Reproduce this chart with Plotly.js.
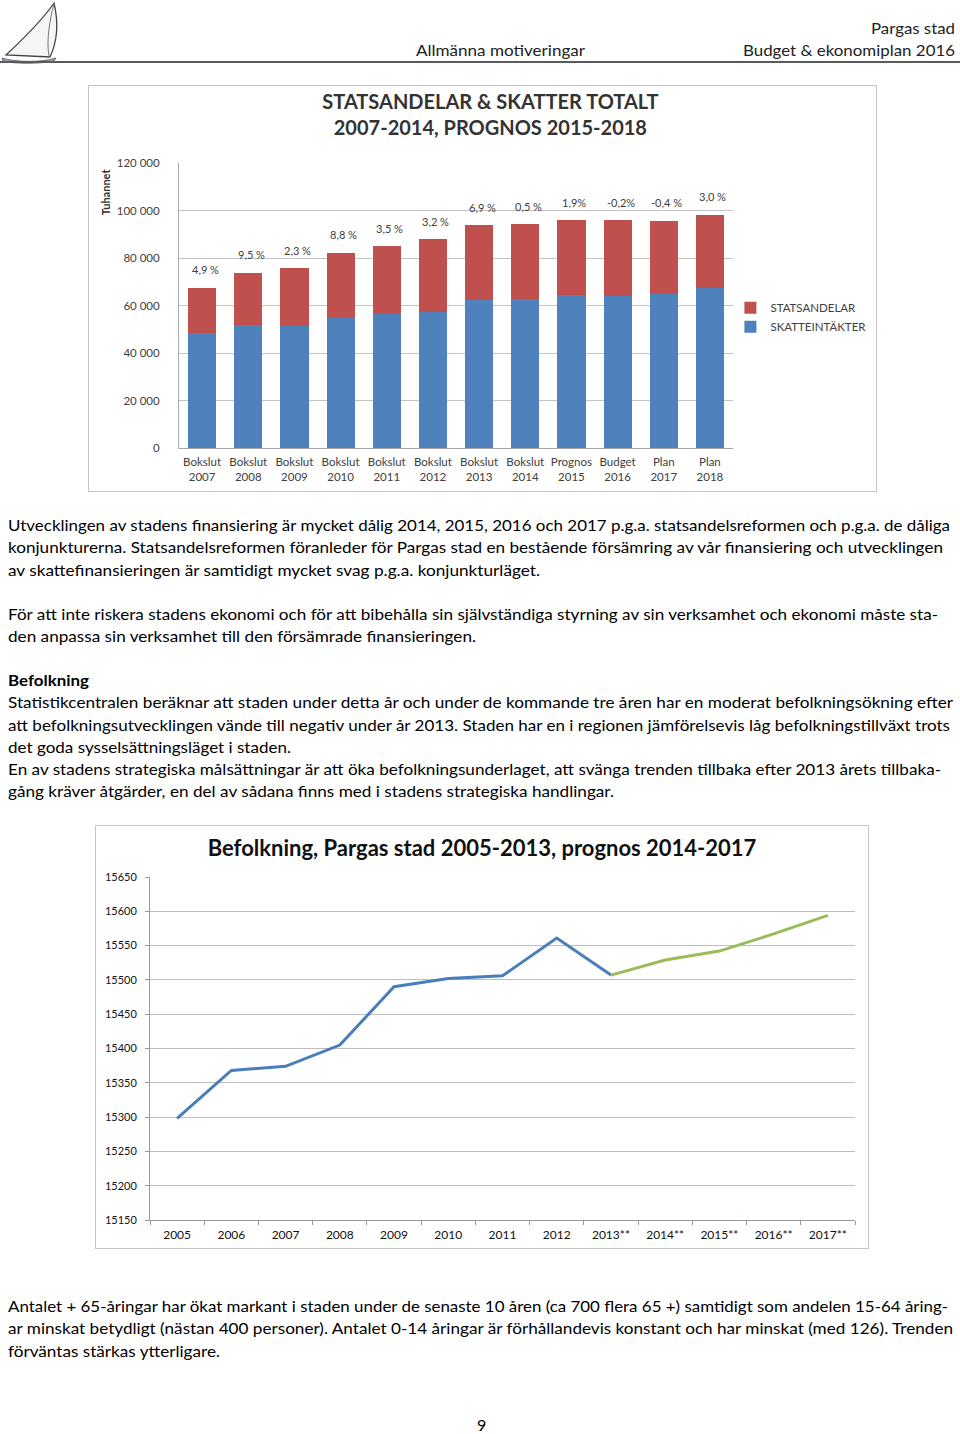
<!DOCTYPE html>
<html>
<head>
<meta charset="utf-8">
<script src="https://cdn.plot.ly/plotly-3.0.1.min.js"></script>
<style>
  html, body { margin:0; padding:0; background:#fff; }
  body { width:960px; height:1434px; position:relative; overflow:hidden; font-family:Lato, "Open Sans", sans-serif; color:#000; }
  .ln { position:absolute; left:8px; white-space:nowrap; font-size:16px; line-height:20px; transform-origin:0 50%; }
  .hd { position:absolute; white-space:nowrap; font-size:16px; line-height:20px; color:#222; transform-origin:0 50%; }
  #chart1 { position:absolute; left:88px; top:85px; width:787px; height:405px; border:1px solid #c4c4c4; }
  #chart2 { position:absolute; left:95px; top:825px; width:772px; height:422px; border:1px solid #c4c4c4; }
</style>
</head>
<body>
<svg style="position:absolute;left:0;top:0" width="62" height="66" viewBox="0 0 62 66">
  <path d="M54,3 C44,18 22,40 6,55 L50,57 C58,40 58,20 54,3 Z" fill="#f4f6f6" stroke="#444" stroke-width="1.3"/>
  <path d="M54,3 C50,20 46,40 49,56" fill="none" stroke="#777" stroke-width="1"/>
  <path d="M2,58 C14,62 40,63 56,58 L54,61 C40,64 14,64 3,61 Z" fill="#9aa8aa" stroke="#556" stroke-width="0.8"/>
</svg>
<div class="hd" data-x1="955" data-w="84" style="top:18px">Pargas stad</div>
<div class="hd" data-x1="955" data-w="212" style="top:40px">Budget &amp; ekonomiplan 2016</div>
<div class="hd" style="left:416px;top:40px" data-w="169">Allmänna motiveringar</div>
<div style="position:absolute;left:0;top:61px;width:960px;height:2px;background:#5a5a5a"></div>

<div id="chart1"></div>

<div class="ln" style="top:515px" data-w="942">Utvecklingen av stadens finansiering är mycket dålig 2014, 2015, 2016 och 2017 p.g.a. statsandelsreformen och p.g.a. de dåliga</div>
<div class="ln" style="top:537px" data-w="935">konjunkturerna. Statsandelsreformen föranleder för Pargas stad en bestående försämring av vår finansiering och utvecklingen</div>
<div class="ln" style="top:560px" data-w="532">av skattefinansieringen är samtidigt mycket svag p.g.a. konjunkturläget.</div>
<div class="ln" style="top:604px" data-w="930">För att inte riskera stadens ekonomi och för att bibehålla sin självständiga styrning av sin verksamhet och ekonomi måste sta-</div>
<div class="ln" style="top:626px" data-w="468">den anpassa sin verksamhet till den försämrade finansieringen.</div>
<div class="ln" style="top:670px;font-weight:bold" data-w="81">Befolkning</div>
<div class="ln" style="top:692px" data-w="945">Statistikcentralen beräknar att staden under detta år och under de kommande tre åren har en moderat befolkningsökning efter</div>
<div class="ln" style="top:715px" data-w="942">att befolkningsutvecklingen vände till negativ under år 2013. Staden har en i regionen jämförelsevis låg befolkningstillväxt trots</div>
<div class="ln" style="top:737px" data-w="283">det goda sysselsättningsläget i staden.</div>
<div class="ln" style="top:759px" data-w="933">En av stadens strategiska målsättningar är att öka befolkningsunderlaget, att svänga trenden tillbaka efter 2013 årets tillbaka-</div>
<div class="ln" style="top:781px" data-w="606">gång kräver åtgärder, en del av sådana finns med i stadens strategiska handlingar.</div>

<div id="chart2"></div>

<div class="ln" style="top:1296px" data-w="940">Antalet + 65-åringar har ökat markant i staden under de senaste 10 åren (ca 700 flera 65 +) samtidigt som andelen 15-64 åring-</div>
<div class="ln" style="top:1318px" data-w="945">ar minskat betydligt (nästan 400 personer). Antalet 0-14 åringar är förhållandevis konstant och har minskat (med 126). Trenden</div>
<div class="ln" style="top:1341px" data-w="212">förväntas stärkas ytterligare.</div>
<div class="hd" style="left:477px;top:1415px;color:#000">9</div>

<script>
// ---------- Chart 1 data ----------
const barCategories = ["Bokslut<br>2007","Bokslut<br>2008","Bokslut<br>2009","Bokslut<br>2010","Bokslut<br>2011","Bokslut<br>2012","Bokslut<br>2013","Bokslut<br>2014","Prognos<br>2015","Budget<br>2016","Plan<br>2017","Plan<br>2018"];
const skatteintakter = [48300, 51800, 51500, 54600, 56500, 57300, 62200, 62600, 64600, 64100, 64900, 67300];
const statsandelar  = [19100, 22000, 24200, 27700, 28500, 30500, 31600, 31700, 31300, 31800, 30800, 31000];
const changeLabels  = ["4,9 %","9,5 %","2,3 %","8,8 %","3,5 %","3,2 %","6,9 %","0,5 %","1,9%","-0,2%","-0,4 %","3,0 %"];

// ---------- Chart 2 data ----------
const popYears      = ["2005","2006","2007","2008","2009","2010","2011","2012","2013**","2014**","2015**","2016**","2017**"];
const popActualYears = ["2005","2006","2007","2008","2009","2010","2011","2012","2013**"];
const popActual     = [15298, 15368, 15374, 15405, 15490, 15502, 15506, 15561, 15507];
const popForecastYears = ["2013**","2014**","2015**","2016**","2017**"];
const popForecast   = [15507, 15529, 15542, 15567, 15594];

const FONT = "Lato, 'Open Sans', sans-serif";
const totals = skatteintakter.map((v, i) => v + statsandelar[i]);

Plotly.newPlot('chart1', [
  { type:'bar', name:'SKATTEINTÄKTER', x:barCategories, y:skatteintakter, marker:{color:'#4f81bd'}, hoverinfo:'y' },
  { type:'bar', name:'STATSANDELAR', x:barCategories, y:statsandelar, marker:{color:'#c0504d'}, hoverinfo:'y' }
], {
  width:787, height:405,
  margin:{l:90, r:143, t:77, b:43, autoexpand:false},
  barmode:'stack', bargap:0.39,
  separators:', ',
  paper_bgcolor:'#fff', plot_bgcolor:'#fff',
  font:{family:FONT, size:11, color:'#404040'},
  title:{text:'<b>STATSANDELAR &amp; SKATTER TOTALT<br>2007-2014, PROGNOS 2015-2018</b>', font:{family:FONT, size:20, color:'#333'}, x:0.51, xref:'container', y:0.942, yref:'container', yanchor:'middle'},
  xaxis:{type:'category', showline:true, linecolor:'#a6a6a6', linewidth:1, tickfont:{size:11.5, color:'#404040'}, tickangle:0, ticks:'', ticklabelstandoff:3, showgrid:false, automargin:false},
  yaxis:{range:[0,120000], dtick:20000, tickformat:',.0f', showgrid:true, gridcolor:'#c4c4c4', gridwidth:1, showline:true, linecolor:'#a6a6a6', zeroline:false, ticks:'', ticklabelstandoff:16, tickfont:{size:11.5, color:'#404040'}, automargin:false},
  legend:{xref:'container', yref:'container', x:0.815, xanchor:'left', y:0.488, yanchor:'top', traceorder:'reversed', font:{size:11.5, color:'#404040'}, itemwidth:30, tracegroupgap:0, bgcolor:'rgba(0,0,0,0)'},
  annotations: [
    {text:'<b>Tuhannet</b>', textangle:-90, xref:'paper', yref:'paper', x:-0.132, xanchor:'center', y:0.9, yanchor:'middle', showarrow:false, font:{size:11, color:'#333'}}
  ].concat(changeLabels.map((t, i) => ({
    text:t, x:barCategories[i], y:totals[i], xref:'x', yref:'y', yanchor:'middle', yshift:18, xshift:3, showarrow:false, font:{size:11, color:'#404040'}
  })))
}, {staticPlot:true, displayModeBar:false});

Plotly.newPlot('chart2', [
  { type:'scatter', mode:'lines', name:'Befolkning', x:popActualYears, y:popActual, line:{color:'#4a7ebb', width:3}, showlegend:false },
  { type:'scatter', mode:'lines', name:'Prognos', x:popForecastYears, y:popForecast, line:{color:'#9bbb59', width:3}, showlegend:false }
], {
  width:772, height:422,
  margin:{l:54, r:13, t:51, b:28, autoexpand:false},
  paper_bgcolor:'#fff', plot_bgcolor:'#fff',
  font:{family:FONT, size:11, color:'#111'},
  title:{text:'<b>Befolkning, Pargas stad 2005-2013, prognos 2014-2017</b>', font:{family:FONT, size:22, color:'#111'}, x:0.5, xref:'container', y:0.946, yref:'container', yanchor:'middle'},
  xaxis:{type:'category', categoryarray:popYears, categoryorder:'array', range:[-0.5, 12.5], showline:true, linecolor:'#999', linewidth:1, ticks:'outside', ticklen:4, tickcolor:'#999', tickson:'boundaries', ticklabelstandoff:4, tickangle:0, showgrid:false, tickfont:{size:12, color:'#111'}, automargin:false},
  yaxis:{range:[15150,15650], dtick:50, showgrid:true, gridcolor:'#bdbdbd', gridwidth:1, showline:true, linecolor:'#999', zeroline:false, ticks:'outside', ticklen:4, tickcolor:'#999', tickformat:'d', ticklabelstandoff:6, tickfont:{size:11, color:'#111'}, automargin:false}
}, {staticPlot:true, displayModeBar:false});

// fit text lines to the widths of the reference page
function fit() {
  document.querySelectorAll('[data-w]').forEach(el => {
    const target = parseFloat(el.dataset.w);
    el.style.transform = 'none';
    const w = el.getBoundingClientRect().width;
    const s = target / w;
    if (el.dataset.x1) {
      el.style.left = (parseFloat(el.dataset.x1) - target) + 'px';
    }
    el.style.transform = 'scaleX(' + s + ')';
  });
}
if (document.fonts && document.fonts.ready) { document.fonts.ready.then(fit); } else { fit(); }
fit();
</script>
</body>
</html>
